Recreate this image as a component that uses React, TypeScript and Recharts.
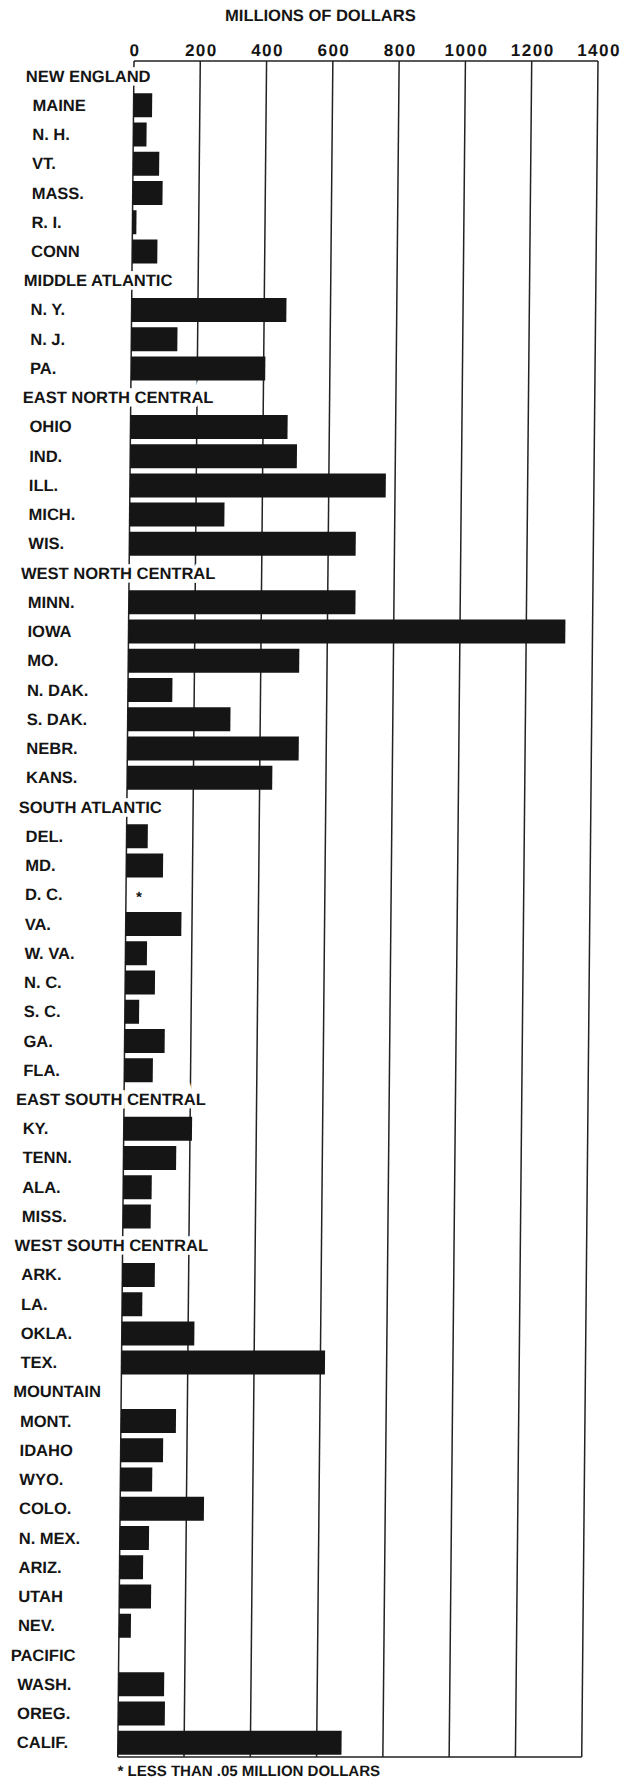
import { BarChart, Bar, XAxis, YAxis, CartesianGrid, Rectangle } from 'recharts'

// census regions, their states and the value for each state (millions of dollars)
const regions = [
  'NEW ENGLAND',
  'MIDDLE ATLANTIC',
  'EAST NORTH CENTRAL',
  'WEST NORTH CENTRAL',
  'SOUTH ATLANTIC',
  'EAST SOUTH CENTRAL',
  'WEST SOUTH CENTRAL',
  'MOUNTAIN',
  'PACIFIC',
]

const stateNames = [
  ['MAINE', 'N. H.', 'VT.', 'MASS.', 'R. I.', 'CONN'],
  ['N. Y.', 'N. J.', 'PA.'],
  ['OHIO', 'IND.', 'ILL.', 'MICH.', 'WIS.'],
  ['MINN.', 'IOWA', 'MO.', 'N. DAK.', 'S. DAK.', 'NEBR.', 'KANS.'],
  ['DEL.', 'MD.', 'D. C.', 'VA.', 'W. VA.', 'N. C.', 'S. C.', 'GA.', 'FLA.'],
  ['KY.', 'TENN.', 'ALA.', 'MISS.'],
  ['ARK.', 'LA.', 'OKLA.', 'TEX.'],
  ['MONT.', 'IDAHO', 'WYO.', 'COLO.', 'N. MEX.', 'ARIZ.', 'UTAH', 'NEV.'],
  ['WASH.', 'OREG.', 'CALIF.'],
]

const stateValues = [
  [56, 40, 79, 90, 12, 76],
  [467, 139, 405],
  [474, 503, 772, 286, 683],
  [684, 1318, 516, 134, 310, 517, 438],
  [64, 111, 0, 168, 65, 90, 43, 121, 86],
  [206, 159, 86, 84],
  [98, 61, 219, 614],
  [166, 128, 96, 253, 88, 71, 96, 36],
  [138, 141, 675],
]

// less than .05 million dollars
const footnoted = ['D. C.']

const xTicks = [0, 200, 400, 600, 800, 1000, 1200, 1400]

const rows = regions.flatMap((region, i) => [
  { name: region, value: null as number | null },
  ...stateNames[i].map((s, j) => ({ name: s, value: stateValues[i][j] as number | null })),
])

const FONT = "'Liberation Sans', Arial, sans-serif"
const INK = '#151515'

function RowTick(props: any) {
  const { y, payload } = props
  const isHeader = regions.includes(payload.value)
  return (
    <text
      x={isHeader ? 26 : 33}
      y={y}
      dy="0.36em"
      textAnchor="start"
      fontFamily={FONT}
      fontWeight={700}
      fontSize={16.5}
      fill={INK}
      stroke={isHeader ? '#fff' : 'none'}
      strokeWidth={isHeader ? 7 : 0}
      paintOrder="stroke"
    >
      {payload.value}
    </text>
  )
}

function TopTick(props: any) {
  const { x, payload } = props
  return (
    <text x={x + 1} y={56} textAnchor="middle" fontFamily={FONT} fontWeight={700} fontSize={17} letterSpacing={1.5} fill={INK}>
      {payload.value}
    </text>
  )
}

// bar shape; tiny values get the footnote star instead of a bar
function StateBar(props: any) {
  const { x, y, height, payload } = props
  if (payload && footnoted.includes(payload.name)) {
    return (
      <text x={x + 13} y={y + height / 2} dy="0.5em" textAnchor="middle" fontFamily={FONT} fontWeight={700} fontSize={15} fill={INK}>
        *
      </text>
    )
  }
  return <Rectangle {...props} />
}

export default function App() {
  return (
    <div
      style={{
        position: 'absolute',
        left: 0,
        top: 0,
        width: 626,
        height: 1779,
        background: '#fff',
        transform: 'skewX(-0.55deg)',
        transformOrigin: '0 61px',
      }}
    >
      <BarChart
        width={626}
        height={1779}
        data={rows}
        layout="vertical"
        margin={{ top: 31, right: 28, bottom: 21, left: 0 }}
      >
        <CartesianGrid horizontal={false} stroke="#222" strokeWidth={1.5} />
        <XAxis
          type="number"
          orientation="top"
          domain={[0, 1400]}
          ticks={xTicks}
          height={30}
          tickLine={false}
          axisLine={{ stroke: '#222', strokeWidth: 1.5 }}
          tick={TopTick}
        />
        <XAxis
          xAxisId="bottom"
          type="number"
          orientation="bottom"
          domain={[0, 1400]}
          height={1}
          tick={false}
          tickLine={false}
          axisLine={{ stroke: '#222', strokeWidth: 1.5 }}
        />
        <YAxis
          type="category"
          dataKey="name"
          width={134}
          interval={0}
          tickLine={false}
          axisLine={false}
          tick={RowTick}
        />
        <Bar dataKey="value" fill={INK} barSize={24} isAnimationActive={false} shape={StateBar} />
      </BarChart>
      <svg width={626} height={1779} style={{ position: 'absolute', left: 0, top: 0, pointerEvents: 'none' }}>
        <text x={320} y={21} textAnchor="middle" fontFamily={FONT} fontWeight={700} fontSize={16.5} fill={INK}>
          MILLIONS OF DOLLARS
        </text>
        <text x={134} y={1776} fontFamily={FONT} fontWeight={700} fontSize={15} fill={INK}>
          * LESS THAN .05 MILLION DOLLARS
        </text>
      </svg>
    </div>
  )
}
